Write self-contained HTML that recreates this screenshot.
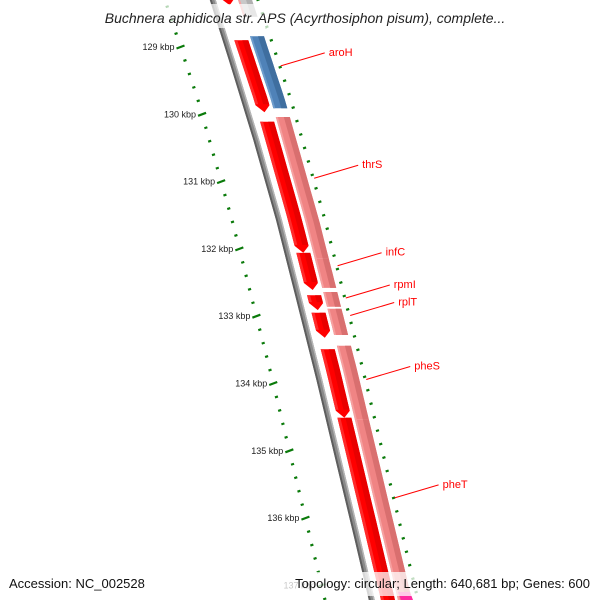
<!DOCTYPE html>
<html><head><meta charset="utf-8"><style>
html,body{margin:0;padding:0;background:#fff;width:600px;height:600px;overflow:hidden}
svg{display:block;font-family:"Liberation Sans",sans-serif}
</style></head><body>
<svg id="map" width="600" height="600" viewBox="0 0 600 600"></svg>
<script>
// data
const innerStarts=[128.00,128.90,130.11,132.06,132.69,132.95,133.49,134.51];
const innerEnds  =[128.38,129.97,132.06,132.61,132.91,133.32,134.51,137.51];
const innerArrow =[true,true,true,true,true,true,true,false];
const outerStarts=[128.00,128.84,130.04,132.14,132.64,132.89,133.44,134.54];
const outerEnds  =[128.55,129.91,132.14,132.58,132.86,133.28,134.54,137.51];
const outerKind  =["gray","blue","pink","pink","pink","pink","pink","pink"];
const labelNames =["aroH","thrS","infC","rpmI","rplT","pheS","pheT"];
const labelKbp   =[129.28,130.95,132.25,132.73,132.99,133.94,135.70];
const tickLabels =[129,130,131,132,133,134,135,136,137];

const NS="http://www.w3.org/2000/svg";
const svg=document.getElementById('map');
function yOf(k){return 47+(k-129)*67.3;}
const bbY=[-40,0,100,220,370,600,640], bbX=[201,212,245,279,317,372,381];
function bb(y){for(let i=0;i<bbY.length-1;i++){if(y<=bbY[i+1]){const t=(y-bbY[i])/(bbY[i+1]-bbY[i]);return bbX[i]+t*(bbX[i+1]-bbX[i]);}}return bbX[bbX.length-1];}
function mk(tag,attrs){const e=document.createElementNS(NS,tag);for(const k in attrs)e.setAttribute(k,attrs[k]);svg.appendChild(e);return e;}
function band(y1,y2,o1,o2,fill,arrow){
  const pts=[];const n=8;
  const yEnd=arrow?y2-7:y2;
  for(let i=0;i<=n;i++){const y=y1+(yEnd-y1)*i/n;pts.push([bb(y)+o1,y]);}
  if(arrow){const m=(o1+o2)/2;pts.push([bb(y2)+m,y2]);}
  for(let i=n;i>=0;i--){const y=y1+(yEnd-y1)*i/n;pts.push([bb(y)+o2,y]);}
  return mk('polygon',{points:pts.map(p=>p[0].toFixed(1)+','+p[1].toFixed(1)).join(' '),fill:fill});
}
// backbone
let e=band(-20,620,-3,3,'#8a8a8a',false);


band(-20,620,-3,-1,'#5e5e5e',false);
band(-20,620,1.5,3,'#b5b5b5',false);
// inner ticks
for(let k=128;k<=137.6;k+=0.2){
  const kk=Math.round(k*10)/10;const y=yOf(kk);const x=bb(y)-47;
  const major=Math.abs(kk-Math.round(kk))<0.01;
  const t=mk('line',{x1:x-(major?4:1.5),y1:y+(major?1.5:0.5),x2:x+(major?4:1.5),y2:y-(major?1.5:0.5),stroke:'#0a7a0a','stroke-width':major?2.2:2.2});
  
  
}
// outer ticks
for(let k=128.1;k<=137.6;k+=0.2){
  const kk=Math.round(k*10)/10;const y=yOf(kk);const x=bb(y)+46;
  const major=Math.abs(kk-Math.round(kk)-0.5)<0.01;
  const t=mk('line',{x1:x-(major?4:1.5),y1:y+(major?1.5:0.5),x2:x+(major?4:1.5),y2:y-(major?1.5:0.5),stroke:'#0a7a0a','stroke-width':2.2});
  
  
}
// tick labels
tickLabels.forEach(k=>{const y=yOf(k);const t=mk('text',{x:bb(y)-53,y:y+3,'font-size':9,'text-anchor':'end',fill:'#222'});t.textContent=k+' kbp';
  
  });
// inner genes
innerStarts.forEach((s,i)=>{const y1=yOf(s),y2=yOf(innerEnds[i]);
  const g=band(y1,y2,9,23,'#ff0000',innerArrow[i]);
  
  
  band(y1,y2-(innerArrow[i]?8:0),17,23,'#e80000',false);
  band(y1,y2-(innerArrow[i]?8:0),9,12,'#ff2a2a',false);
});
// outer genes
const cols={gray:['#c8c8c8','#b0b0b0'],blue:['#4f82b8','#3f6e9f'],pink:['#f08484','#d96f6f']};
outerStarts.forEach((s,i)=>{const y1=yOf(s),y2=yOf(outerEnds[i]);const c=cols[outerKind[i]];
  const g=band(y1,y2,26,40,c[0],false);
  
  
  band(y1,y2,34,40,c[1],false);
  band(y1,y2,26,28,outerKind[i]==='blue'?'#6d9ccc':'#f6a0a0',false);
});
mk('polygon',{points:'398,592 410,592 413,600 401,600',fill:'#ff2aa0'});
// labels
labelNames.forEach((n,i)=>{const y=yOf(labelKbp[i]);const x=bb(y)+47;
  const l=mk('line',{x1:x,y1:y,x2:x+44,y2:y-13,stroke:'#ff0000','stroke-width':1});
  
  
  const t=mk('text',{x:x+48,y:y-10,'font-size':11,fill:'#ff0000'});t.textContent=n;
  
  });
// title & footer
mk('rect',{x:80,y:4,width:440,height:24,fill:'#fff','fill-opacity':0.7});
let tt=mk('text',{x:305,y:23,'font-size':14,'font-style':'italic','text-anchor':'middle',fill:'#222'});
tt.textContent='Buchnera aphidicola str. APS (Acyrthosiphon pisum), complete...';


mk('rect',{x:280,y:572,width:314,height:24,fill:'#fff','fill-opacity':0.75});
let f1=mk('text',{x:9,y:588,'font-size':13,fill:'#111'});f1.textContent='Accession: NC_002528';


let f2=mk('text',{x:590,y:588,'font-size':13,'text-anchor':'end',fill:'#111'});f2.textContent='Topology: circular; Length: 640,681 bp; Genes: 600';


</script>
</body></html>
